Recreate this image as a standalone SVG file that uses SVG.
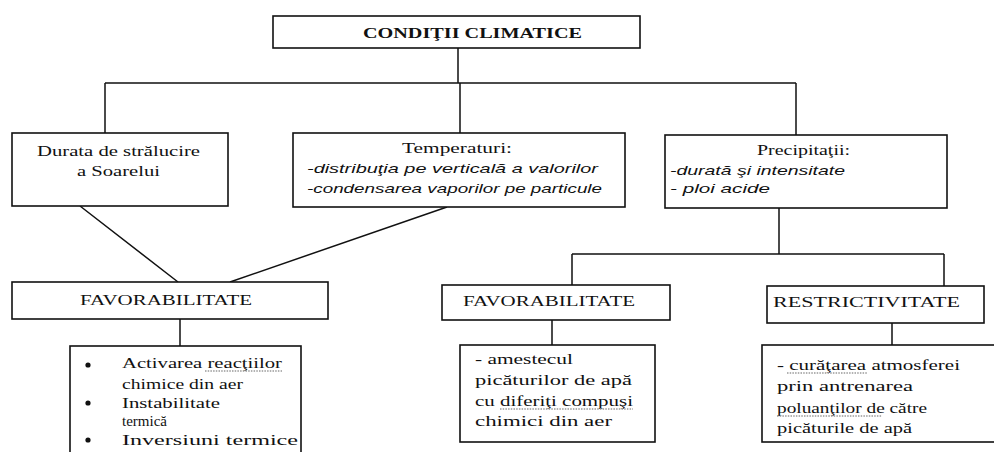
<svg xmlns="http://www.w3.org/2000/svg" width="994" height="452" viewBox="0 0 994 452">
<style>
.box{fill:#fff;stroke:#111;stroke-width:1.6}
.ln{fill:none;stroke:#111;stroke-width:1.5}
.sq{fill:none;stroke:#999;stroke-width:1.6;stroke-dasharray:1.5 1.2}
text{font-family:"Liberation Serif","Times New Roman",serif;font-size:15px;fill:#111}
.c{text-anchor:middle}
.it{font-family:"Liberation Sans",Arial,sans-serif;font-style:italic;font-size:13.5px}
.b{font-weight:bold}
</style>
<rect width="994" height="452" fill="#fff"/>
<g id="connectors">
<path class="ln" d="M458 48 V83 M105 83 H796 M105 83 V133 M460 83 V133 M796 83 V135"/>
<path class="ln" d="M80 206 L178 282 M447 207 L230 282"/>
<path class="ln" d="M180 319 V346"/>
<path class="ln" d="M779 208 V254 M572 254 H944 M572 254 V285 M944 254 V286"/>
<path class="ln" d="M552 320 V345 M892 323 V345"/>
</g>
<g id="n-conditii">
<rect class="box" x="273" y="16" width="367" height="32"/>
<text class="b" x="363" y="38" textLength="219" lengthAdjust="spacingAndGlyphs">CONDIŢII  CLIMATICE</text>
</g>
<g id="n-durata">
<rect class="box" x="12" y="133" width="216" height="73"/>
<text x="37" y="156" textLength="163" lengthAdjust="spacingAndGlyphs">Durata de strălucire</text>
<text x="77" y="176" textLength="83" lengthAdjust="spacingAndGlyphs">a Soarelui</text>
</g>
<g id="n-temperaturi">
<rect class="box" x="293" y="133" width="332" height="74"/>
<text x="402" y="153" textLength="110" lengthAdjust="spacingAndGlyphs">Temperaturi:</text>
<text class="it" x="307" y="173" textLength="291" lengthAdjust="spacingAndGlyphs">-distribuţia pe verticală a valorilor</text>
<text class="it" x="307" y="193" textLength="295" lengthAdjust="spacingAndGlyphs">-condensarea vaporilor pe particule</text>
</g>
<g id="n-precipitatii">
<rect class="box" x="665" y="135" width="282" height="73"/>
<text x="757" y="155" textLength="93" lengthAdjust="spacingAndGlyphs">Precipitaţii:</text>
<text class="it" x="670" y="175" textLength="175" lengthAdjust="spacingAndGlyphs">-durată şi intensitate</text>
<text class="it" x="670" y="193" textLength="100" lengthAdjust="spacingAndGlyphs">- ploi acide</text>
</g>
<g id="n-fav1">
<rect class="box" x="12" y="282" width="316" height="37"/>
<text x="80" y="305" textLength="172" lengthAdjust="spacingAndGlyphs">FAVORABILITATE</text>
</g>
<g id="n-fav1-list">
<rect class="box" x="70" y="346" width="231" height="112"/>
<circle cx="88" cy="365" r="2.6" fill="#111"/>
<circle cx="88" cy="403" r="2.6" fill="#111"/>
<circle cx="88" cy="440" r="2.6" fill="#111"/>
<text x="122" y="368" textLength="160" lengthAdjust="spacingAndGlyphs">Activarea reacţiilor</text>
<path class="sq" d="M205 371 H282"/>
<text x="122" y="389" textLength="121" lengthAdjust="spacingAndGlyphs">chimice din aer</text>
<text x="122" y="408" textLength="98" lengthAdjust="spacingAndGlyphs">Instabilitate</text>
<text x="122" y="426">termică</text>
<text x="122" y="445" textLength="176" lengthAdjust="spacingAndGlyphs">Inversiuni termice</text>
</g>
<g id="n-fav2">
<rect class="box" x="442" y="285" width="228" height="35"/>
<text x="463" y="306" textLength="172" lengthAdjust="spacingAndGlyphs">FAVORABILITATE</text>
</g>
<g id="n-fav2-text">
<rect class="box" x="460" y="345" width="195" height="97"/>
<text x="475" y="364" textLength="98" lengthAdjust="spacingAndGlyphs">- amestecul</text>
<text x="475" y="385" textLength="157" lengthAdjust="spacingAndGlyphs">picăturilor de apă</text>
<text x="475" y="406" textLength="158" lengthAdjust="spacingAndGlyphs">cu diferiţi compuşi</text>
<path class="sq" d="M500 409 H633"/>
<text x="475" y="426" textLength="137" lengthAdjust="spacingAndGlyphs">chimici din aer</text>
</g>
<g id="n-restr">
<rect class="box" x="767" y="286" width="217" height="37"/>
<text x="773" y="307" textLength="187" lengthAdjust="spacingAndGlyphs">RESTRICTIVITATE</text>
</g>
<g id="n-restr-text">
<rect class="box" x="762" y="345" width="240" height="97"/>
<text x="777" y="370" textLength="183" lengthAdjust="spacingAndGlyphs">- curăţarea atmosferei</text>
<path class="sq" d="M787 373 H867"/>
<text x="777" y="391" textLength="136" lengthAdjust="spacingAndGlyphs">prin antrenarea</text>
<text x="777" y="413" textLength="150" lengthAdjust="spacingAndGlyphs">poluanţilor de către</text>
<path class="sq" d="M777 416 H882"/>
<text x="777" y="433" textLength="135" lengthAdjust="spacingAndGlyphs">picăturile de apă</text>
</g>
</svg>
